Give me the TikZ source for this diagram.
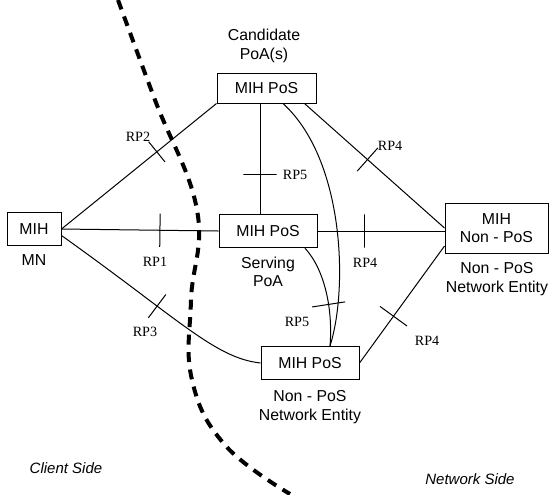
\documentclass[tikz,border=0pt]{standalone}
\usepackage{fontspec}
\setmainfont{Liberation Sans}
\newfontfamily\rpfont{Liberation Serif}
\begin{document}
\begin{tikzpicture}[x=0.6pt, y=-0.6pt, line width=.6pt,
	box/.style={draw, inner sep=0pt, align=center, font=\fontsize{9.5}{11}\selectfont},
	txt/.style={align=center, font=\fontsize{9.5}{11}\selectfont},
	side/.style={font=\itshape\fontsize{9}{11}\selectfont},
	rp/.style={font=\rpfont\fontsize{8.5}{10}\selectfont},
	rpmark/.style={draw, sloped, inner sep=0pt, minimum width=0pt, minimum height=#1},
	rpmark/.default=19pt]

\useasboundingbox (0,0) rectangle (549,494);

\node[box, minimum width=32.4pt, minimum height=20pt] (mn) at (34,229) {MIH};
\node[box, minimum width=59.4pt, minimum height=18pt] (cand) at (266.5,88) {MIH PoS};
\node[box, minimum width=58.8pt, minimum height=20pt] (serv) at (268,231) {MIH PoS};
\node[box, minimum width=61.8pt, minimum height=30pt] (nonpos) at (496.5,228) {MIH\\Non - PoS};
\node[box, minimum width=58.8pt, minimum height=20pt] (ent) at (310,363) {MIH PoS};

\node[txt] at (264,46) {Candidate\\PoA(s)};
\node[txt] at (34,260) {MN};
\node[txt] at (268,272) {Serving\\PoA};
\node[txt] at (497,279) {Non - PoS\\Network Entity};
\node[txt] at (310,407) {Non - PoS\\Network Entity};
\node[side] at (66,468) {Client Side};
\node[side] at (470,479) {Network Side};

\draw (mn.east) -- node[rpmark=15.6pt, pos=.615]{} (cand.south west);
\draw (mn.east) -- node[rpmark=20pt, pos=.627]{} (serv.west);
\draw ([yshift=-3.9pt]mn.east) .. controls (180,320) and (215,358) .. node[rpmark=17.4pt, pos=.34]{} (ent.west);
\draw ([xshift=-3.9pt]cand.south) -- node[rpmark=20pt, pos=.64]{} ([xshift=-3.9pt]cand.south |- serv.north);
\draw ([xshift=-7.2pt]cand.south east) -- node[rpmark=18.6pt, pos=.45]{} (nonpos.west);
\draw (serv.east) -- node[rpmark=20pt, pos=.37]{} (serv.east -| nonpos.west);
\draw (ent.east) -- node[rpmark=20pt, pos=.4]{} ([yshift=-10.8pt]nonpos.west);
\draw ([xshift=9.9pt]cand.south) .. controls (345,160) and (348,290) .. ([xshift=12pt]ent.north);
\draw ([xshift=22.2pt]serv.south) .. controls (325,270) and (333,310) .. node[rpmark=20pt, pos=.62]{} ([xshift=12pt]ent.north);

\node[rp] at (138,137) {RP2};
\node[rp] at (155,262) {RP1};
\node[rp] at (145,332) {RP3};
\node[rp] at (295,175) {RP5};
\node[rp] at (297,322) {RP5};
\node[rp] at (390,146) {RP4};
\node[rp] at (365,263) {RP4};
\node[rp] at (427,341) {RP4};

\draw[line width=2.4pt, dash pattern=on 6pt off 4.5pt] plot[smooth, tension=.7] coordinates {(118,0) (155,100) (197,210) (191,300) (192,380) (225,445) (290,494)};
\end{tikzpicture}
\end{document}
